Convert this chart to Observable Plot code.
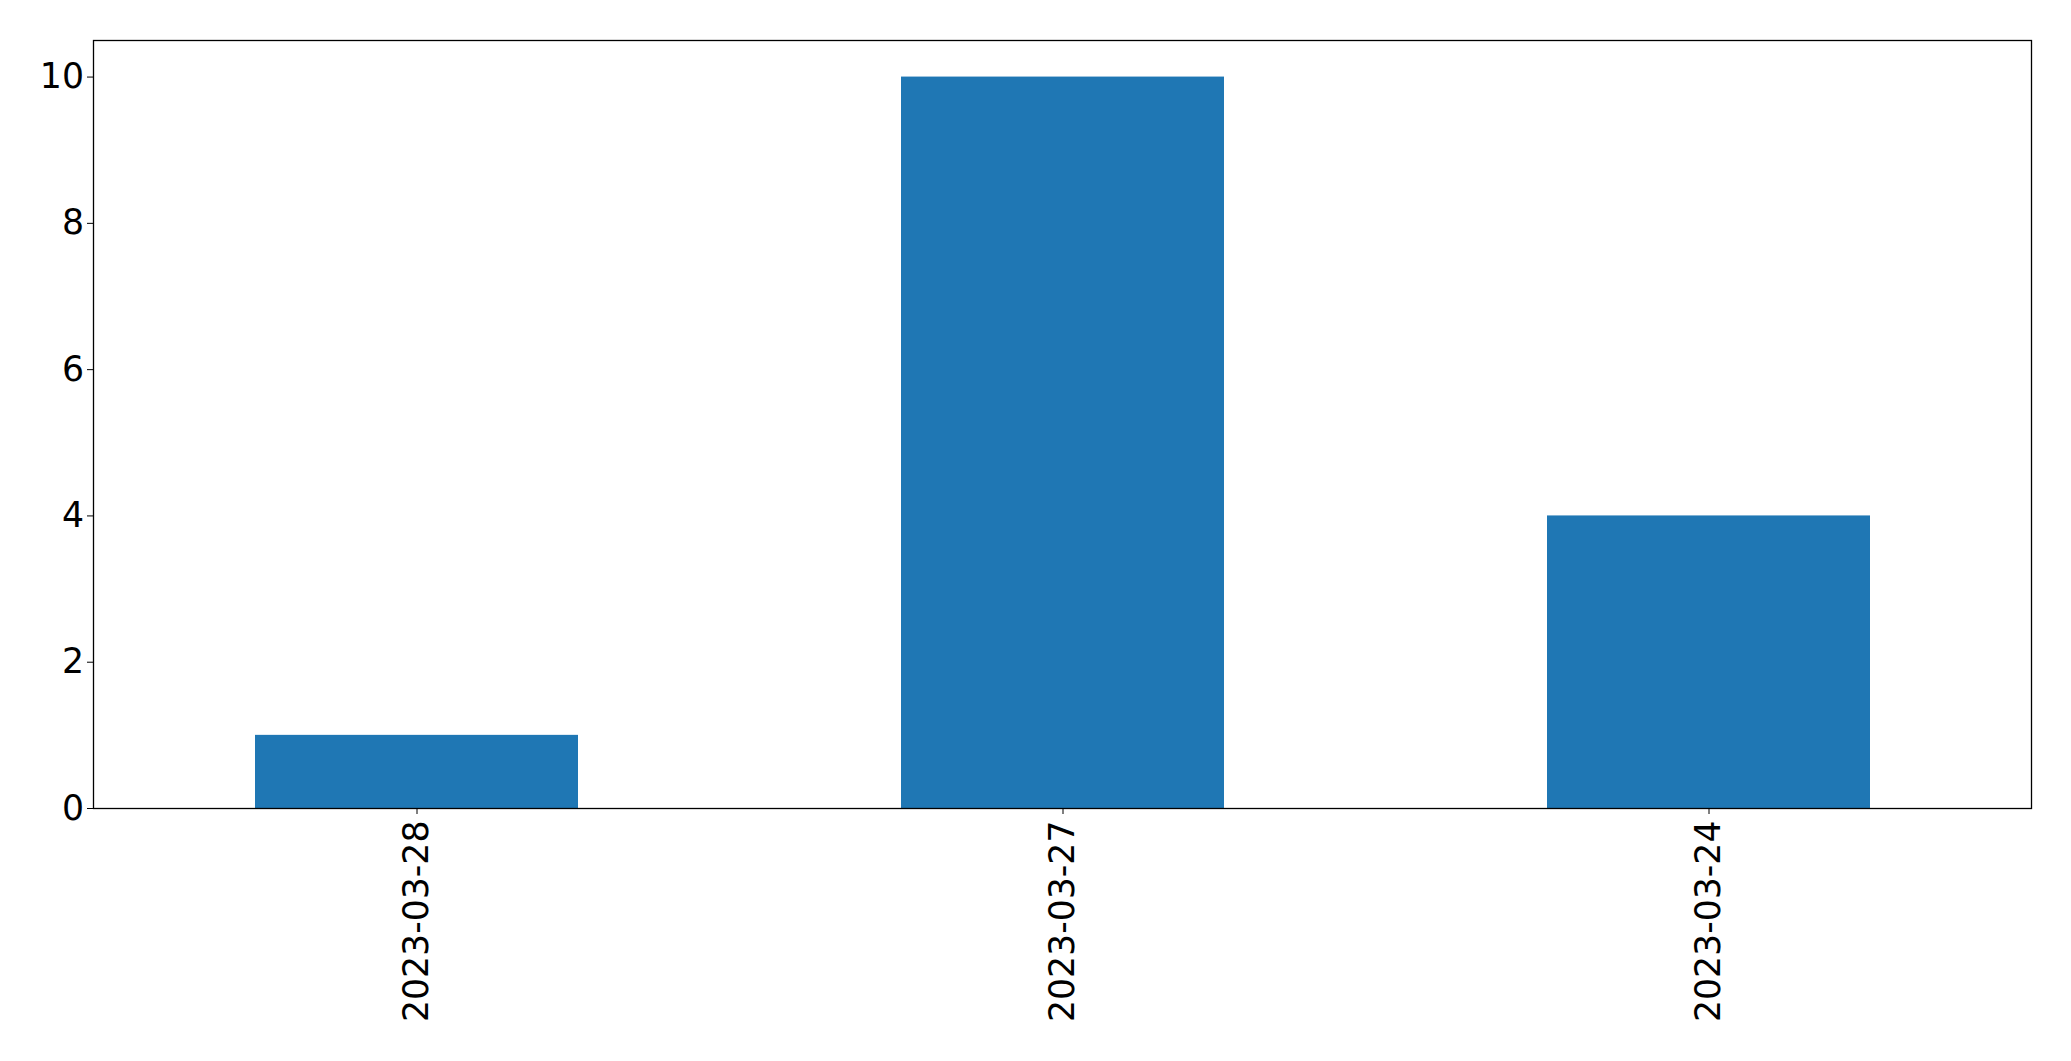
<!DOCTYPE html>
<html>
<head>
<meta charset="utf-8">
<script src="https://cdn.jsdelivr.net/npm/d3@7"></script>
<script src="https://cdn.jsdelivr.net/npm/@observablehq/plot@0.6"></script>
<style>
  html, body { margin: 0; padding: 0; background: #fff; }
</style>
</head>
<body>
<div id="chart"></div>
<script>
const dates = ["2023-03-28", "2023-03-27", "2023-03-24"];
const counts = [1, 10, 4];
const yTicks = [0, 2, 4, 6, 8, 10];

const data = dates.map((d, i) => ({date: d, count: counts[i]}));

const chart = Plot.plot({
  width: 2071,
  height: 1061,
  marginLeft: 93,
  marginRight: 40,
  marginTop: 40,
  marginBottom: 253,
  style: {fontFamily: "DejaVu Sans", fontSize: "34.7px", color: "black", background: "white"},
  x: {type: "band", domain: dates, paddingInner: 0.5, paddingOuter: 0.25, label: null,
      tickRotate: -90, tickSize: 6, tickPadding: 6},
  y: {domain: [0, 10.5], ticks: yTicks, label: null, tickSize: 6, tickPadding: 3.5},
  marks: [
    Plot.barY(data, {x: "date", y: "count", fill: "#1f77b4", insetLeft: 0, insetRight: 0}),
    Plot.frame({stroke: "black", strokeWidth: 1.3})
  ]
});
document.getElementById("chart").appendChild(chart);
</script>
</body>
</html>
